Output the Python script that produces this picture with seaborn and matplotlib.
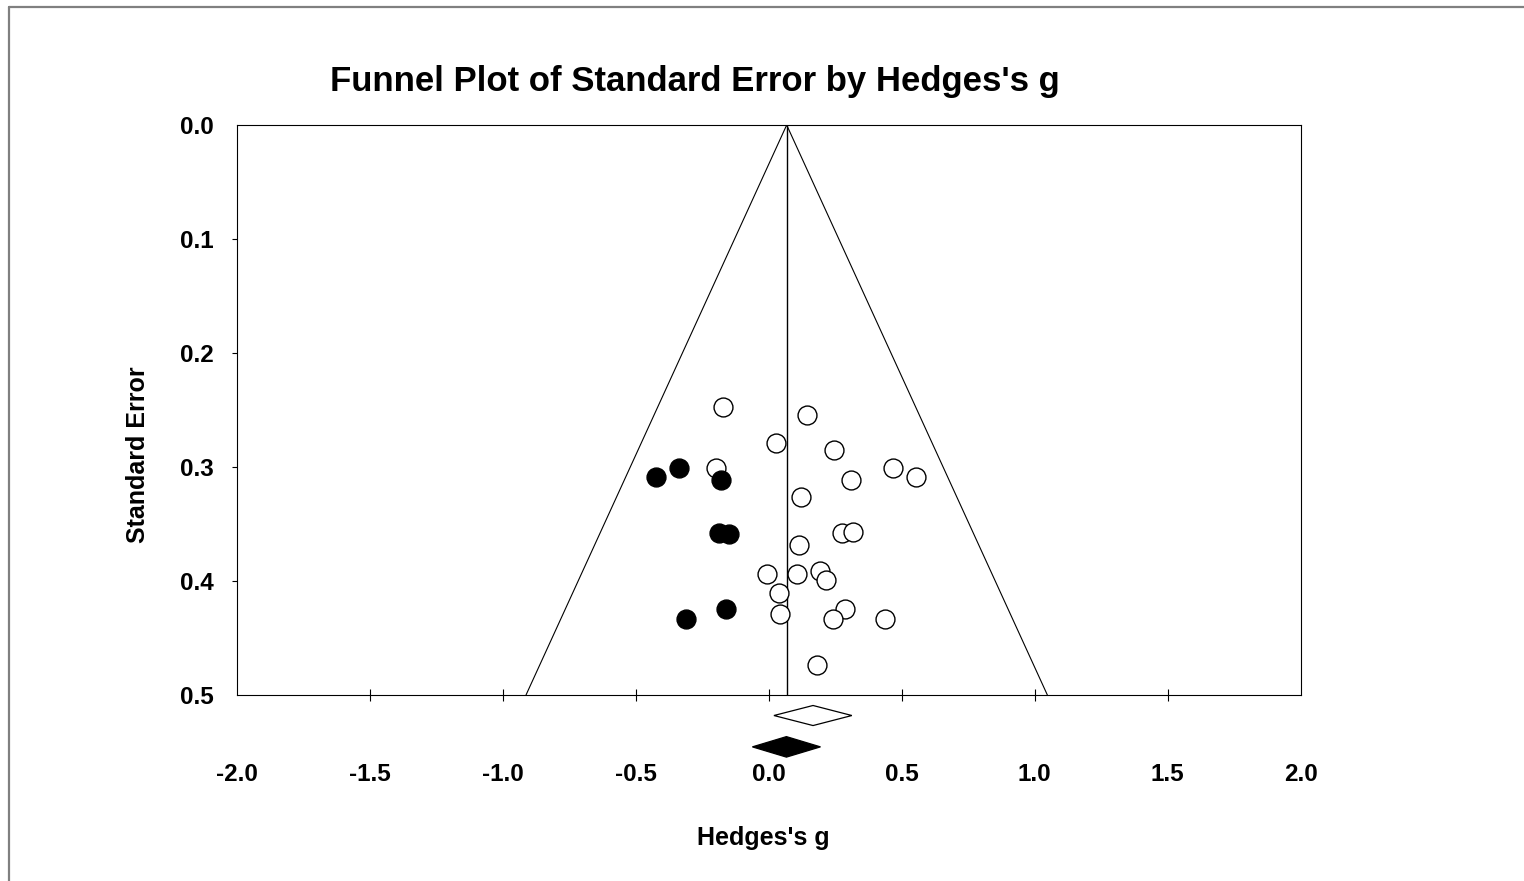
import matplotlib
matplotlib.use("Agg")
import matplotlib.pyplot as plt
import seaborn as sns
import pandas as pd

# ---- data ----
observed_g = [-0.172, 0.144, 0.028, 0.244, -0.198, 0.466, 0.554, 0.308, 0.121,
              0.275, 0.316, 0.114, -0.006, 0.107, 0.193, 0.216, 0.038, 0.044,
              0.288, 0.241, 0.438, 0.181]
observed_se = [0.2476, 0.2544, 0.2787, 0.2854, 0.3006, 0.3006, 0.3085, 0.3117, 0.3266,
               0.3582, 0.3573, 0.3684, 0.3941, 0.3941, 0.3910, 0.3989, 0.4103, 0.4289,
               0.4248, 0.4333, 0.4336, 0.4739]
imputed_g = [-0.424, -0.336, -0.180, -0.186, -0.148, -0.161, -0.310]
imputed_se = [0.3085, 0.3006, 0.3117, 0.3577, 0.3588, 0.4248, 0.4336]

funnel_center = 0.068
max_se = 0.5
observed_summary = [0.020, 0.167, 0.313]   # lower, point, upper
adjusted_summary = [-0.061, 0.067, 0.195]

x_ticks = [-2.0, -1.5, -1.0, -0.5, 0.0, 0.5, 1.0, 1.5, 2.0]
y_ticks = [0.0, 0.1, 0.2, 0.3, 0.4, 0.5]

title = "Funnel Plot of Standard Error by Hedges's g"
xlabel = "Hedges's g"
ylabel = "Standard Error"

# ---- style ----
sns.set_theme(style="white")
plt.rcParams['font.family'] = ['Liberation Sans', 'DejaVu Sans']
plt.rcParams['font.weight'] = 'bold'
plt.rcParams['text.color'] = 'black'
plt.rcParams['xtick.color'] = 'black'
plt.rcParams['ytick.color'] = 'black'
plt.rcParams['xtick.labelcolor'] = 'black'
plt.rcParams['ytick.labelcolor'] = 'black'

W, H = 1524, 881
fig = plt.figure(figsize=(W / 100, H / 100), dpi=100)
fig.patch.set_facecolor("white")

ax_l, ax_r, ax_t, ax_b = 236.6, 1300.6, 125, 695
ax = fig.add_axes([ax_l / W, 1 - ax_b / H, (ax_r - ax_l) / W, (ax_b - ax_t) / H])
ax.set_facecolor("white")

# funnel
z = 1.96
ax.plot([funnel_center - z * max_se, funnel_center, funnel_center + z * max_se],
        [max_se, 0, max_se], color="black", lw=0.8, zorder=2)
ax.plot([funnel_center, funnel_center], [0, max_se], color="black", lw=1.0, zorder=2)

obs_df = pd.DataFrame({"g": observed_g, "se": observed_se})
imp_df = pd.DataFrame({"g": imputed_g, "se": imputed_se})
sns.scatterplot(data=obs_df, x="g", y="se", ax=ax, s=185, marker="o",
                facecolor="white", edgecolor="black", linewidth=1.0, zorder=3)
sns.scatterplot(data=imp_df, x="g", y="se", ax=ax, s=185, marker="o",
                color="black", edgecolor="black", linewidth=1.0, zorder=4)

ax.set_xlim(-2.0, 2.0)
ax.set_ylim(0.5, 0.0)

# summary diamonds below axis
def diamond(vals, yc, hh, fc):
    lo, mid, hi = vals
    ax.fill([lo, mid, hi, mid, lo], [yc, yc - hh, yc, yc + hh, yc],
            facecolor=fc, edgecolor="black", lw=0.9, clip_on=False, zorder=5)

diamond(observed_summary, 0.518, 0.0088, "white")
diamond(adjusted_summary, 0.5455, 0.009, "black")

for side in ["top", "bottom", "left", "right"]:
    ax.spines[side].set_color("black")
    ax.spines[side].set_linewidth(0.8)

ax.set_xticks(x_ticks)
ax.set_xticklabels([f"{v:.1f}" for v in x_ticks])
ax.set_yticks(y_ticks)
ax.set_yticklabels([f"{v:.1f}" for v in y_ticks])
ax.tick_params(axis="x", direction="inout", length=8.6, width=0.8, color="black",
               pad=45, labelsize=17.5, bottom=True, labelcolor="black")
ax.tick_params(axis="y", direction="out", length=3.6, width=0.8, color="black",
               pad=13, labelsize=17.5, left=True, labelcolor="black")
for lbl in ax.get_xticklabels() + ax.get_yticklabels():
    lbl.set_fontweight("bold")
xt = ax.xaxis.get_major_ticks()
for t in (xt[0], xt[-1]):
    t.tick1line.set_visible(False)
yt = ax.yaxis.get_major_ticks()
for t in (yt[0], yt[-1]):
    t.tick1line.set_visible(False)

ax.set_xlabel("")
ax.set_ylabel("")
fig.text(763 / W, 1 - 838 / H, xlabel, ha="center", va="center",
         fontsize=18, fontweight="bold", color="black")
fig.text(138 / W, 1 - 455 / H, ylabel, ha="center", va="center",
         rotation=90, fontsize=18, fontweight="bold", color="black")
fig.text(695 / W, 1 - 81 / H, title, ha="center", va="center",
         fontsize=25, fontweight="bold", color="black")

# outer frame (top and left only)
fig.add_artist(plt.Line2D([9 / W, 1.0], [1 - 6.5 / H, 1 - 6.5 / H],
                          color="#808080", lw=1.6, transform=fig.transFigure))
fig.add_artist(plt.Line2D([9 / W, 9 / W], [0.0, 1 - 6.5 / H],
                          color="#808080", lw=1.6, transform=fig.transFigure))

fig.savefig("out.png", dpi=100, facecolor="white")
